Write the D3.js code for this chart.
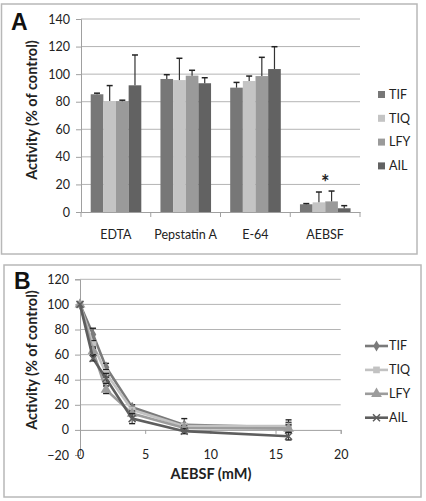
<!DOCTYPE html>
<html><head><meta charset="utf-8">
<script src="https://cdn.jsdelivr.net/npm/d3@7"></script>
<style>body{margin:0;background:#fff}svg{display:block}text{font-family:Lato,"Open Sans",sans-serif}</style>
</head><body><svg id="c" width="426" height="501"></svg>
<script>
const categories = ["EDTA","Pepstatin A","E-64","AEBSF"];
const seriesNames = ["TIF","TIQ","LFY","AIL"];
const tifA = [85.4, 96.5, 90.2, 5.6];
const tifAErr = [0.8, 3.1, 3.8, 0.5];
const tiqA = [80.5, 95.7, 95.0, 7.0];
const tiqAErr = [11.2, 15.8, 3.6, 7.5];
const lfyA = [80.4, 98.9, 98.6, 7.7];
const lfyAErr = [0.7, 3.9, 13.6, 7.5];
const ailA = [91.9, 93.4, 103.7, 2.7];
const ailAErr = [22.0, 4.0, 16.2, 1.9];
const yTicksA = [0,20,40,60,80,100,120,140];

const conc = [0,1,2,4,8,16];
const tifB = [100, 76, 50, 18, 4, 2];
const tifBErr = [0, 5, 3, 2, 5, 4];
const tiqB = [100, 68, 45, 16, 3, 3];
const tiqBErr = [0, 3, 3, 2, 2, 5];
const lfyB = [100, 63, 32, 13, 1.5, 1];
const lfyBErr = [0, 3, 3, 2, 2, 3];
const ailB = [100, 57, 41, 9, -1, -5];
const ailBErr = [0, 2, 4, 4, 2, 3];
const yTicksB = [-20,0,20,40,60,80,100,120];
const xTicksB = [0,5,10,15,20];

const colorsA = ["#777777","#c4c4c4","#9a9a9a","#626262"];
const colorsB = ["#7a7a7a","#c2c2c2","#9c9c9c","#5e5e5e"];
const grid = "#b4b4b4", axisC = "#a0a0a0", borderC = "#b8b8b8";

const svg = d3.select("#c");

// ---------- Panel A ----------
const gA = svg.append("g");
gA.append("rect").attr("x",1.5).attr("y",4).attr("width",415.5).attr("height",250)
  .attr("fill","none").attr("stroke",borderC).attr("stroke-width",1.5);
const yA = d3.scaleLinear().domain([0,140]).range([212,19]);
const x0 = d3.scaleBand().domain(categories).range([81,360]).padding(0);
const x1 = d3.scaleBand().domain(seriesNames).range([9.7,60.3]).padding(0);

gA.selectAll("line.grid").data(yTicksA.filter(d=>d>0)).join("line")
  .attr("x1",81).attr("x2",360).attr("y1",d=>yA(d)).attr("y2",d=>yA(d))
  .attr("stroke",grid).attr("stroke-width",1);

const yAxisA = d3.axisLeft(yA).tickValues(yTicksA).tickSize(5).tickPadding(6);
const ya = gA.append("g").attr("transform","translate(81,0)").call(yAxisA);
ya.select(".domain").attr("stroke",axisC);
ya.selectAll(".tick line").attr("stroke",axisC);
ya.selectAll("text").attr("font-size",12.5).attr("fill","#222").style("font-family","Lato");

const xAxisA = d3.axisBottom(x0).tickSize(0).tickPadding(18);
const xa = gA.append("g").attr("transform","translate(0,212)").call(xAxisA);
xa.select(".domain").attr("stroke",axisC);
xa.selectAll("text").attr("font-size",12.5).attr("fill","#222").style("font-family","Lato");
const bounds = categories.map(c=>x0(c)).concat([x0.range()[1]]);
gA.selectAll("line.ctick").data(bounds).join("line")
  .attr("x1",d=>d).attr("x2",d=>d).attr("y1",212).attr("y2",217)
  .attr("stroke",axisC);

const valsA = [tifA,tiqA,lfyA,ailA];
const errsA = [tifAErr,tiqAErr,lfyAErr,ailAErr];
seriesNames.forEach((s,si)=>{
  const rows = categories.map((c,ci)=>({c,v:valsA[si][ci],e:errsA[si][ci]}));
  gA.selectAll("rect.b"+si).data(rows).join("rect")
    .attr("x",d=>x0(d.c)+x1(s)).attr("width",x1.bandwidth())
    .attr("y",d=>yA(d.v)).attr("height",d=>yA(0)-yA(d.v))
    .attr("fill",colorsA[si]);
  rows.forEach(d=>{
    const cx = x0(d.c)+x1(s)+x1.bandwidth()/2;
    gA.append("line").attr("x1",cx).attr("x2",cx).attr("y1",yA(d.v)).attr("y2",yA(d.v+d.e))
      .attr("stroke","#333").attr("stroke-width",1.2);
    gA.append("line").attr("x1",cx-3).attr("x2",cx+3).attr("y1",yA(d.v+d.e)).attr("y2",yA(d.v+d.e))
      .attr("stroke","#222").attr("stroke-width",1.5);
  });
});
gA.append("text").attr("x",x0("AEBSF")+x1("LFY")).attr("y",190).attr("text-anchor","middle")
  .attr("font-size",20).attr("font-weight","bold").attr("fill","#222").text("*");

gA.append("text").attr("transform","translate(37,110) rotate(-90)").attr("text-anchor","middle")
  .attr("font-size",14.5).attr("font-weight","bold").attr("fill","#222").text("Activity (% of control)");
gA.append("text").attr("x",11).attr("y",30).attr("font-size",23).attr("font-weight","bold")
  .attr("fill","#111").style("font-family","Liberation Sans, Arial").text("A");

const legA = gA.selectAll("g.leg").data(seriesNames).join("g")
  .attr("transform",(d,i)=>`translate(378,${94.5+i*23.8})`);
legA.append("rect").attr("x",0).attr("y",-3.5).attr("width",7).attr("height",7).attr("fill",(d,i)=>colorsA[i]);
legA.append("text").attr("x",11).attr("y",0).attr("dy","0.35em").attr("font-size",12.5).attr("fill","#222").text(d=>d);

// ---------- Panel B ----------
const gB = svg.append("g");
gB.append("rect").attr("x",4).attr("y",265).attr("width",417).attr("height",232)
  .attr("fill","none").attr("stroke",borderC).attr("stroke-width",1.5);
const xB = d3.scaleLinear().domain([0,20]).range([80,340.7]);
const yB = d3.scaleLinear().domain([-20,120]).range([455,279.3]);

gB.selectAll("line.grid").data(yTicksB.filter(d=>d>0)).join("line")
  .attr("x1",80).attr("x2",340.7).attr("y1",d=>yB(d)).attr("y2",d=>yB(d))
  .attr("stroke",grid).attr("stroke-width",1);

const yAxisB = d3.axisLeft(yB).tickValues(yTicksB).tickSize(5).tickPadding(6);
const yb = gB.append("g").attr("transform","translate(80,0)").call(yAxisB);
yb.select(".domain").attr("stroke",axisC);
yb.selectAll(".tick line").attr("stroke",axisC);
yb.selectAll("text").attr("font-size",12.5).attr("fill","#222").style("font-family","Lato");

const xAxisB = d3.axisBottom(xB).tickValues(xTicksB).tickSize(4).tickPadding(0).tickFormat(d3.format("d"));
const xb = gB.append("g").attr("transform",`translate(0,${yB(0)})`).call(xAxisB);
xb.select(".domain").attr("stroke",axisC);
xb.selectAll(".tick line").attr("stroke",axisC);
xb.selectAll("text").attr("font-size",12.5).attr("fill","#222").style("font-family","Lato")
  .attr("y",yB(-20)-yB(0)).attr("dy","0.35em");

const valsB = [tifB,tiqB,lfyB,ailB];
const errsB = [tifBErr,tiqBErr,lfyBErr,ailBErr];
const line = d3.line().x(d=>xB(d.x)).y(d=>yB(d.y));
const symTypes = [d3.symbolDiamond, d3.symbolSquare, d3.symbolTriangle, null];
const symSizes = [36, 45, 50, 0];
function drawMarker(g, si, cx, cy, col){
  if (si===3){
    g.append("path").attr("d",`M${cx-3.5},${cy-3.5}L${cx+3.5},${cy+3.5}M${cx-3.5},${cy+3.5}L${cx+3.5},${cy-3.5}`)
      .attr("stroke",col).attr("stroke-width",1.5).attr("fill","none");
  } else {
    g.append("path").attr("d",d3.symbol().type(symTypes[si]).size(symSizes[si])())
      .attr("transform",`translate(${cx},${cy})`).attr("fill",col);
  }
}
seriesNames.forEach((s,si)=>{
  const pts = conc.map((c,i)=>({x:c,y:valsB[si][i],e:errsB[si][i]}));
  gB.append("path").datum(pts).attr("d",line).attr("fill","none")
    .attr("stroke",colorsB[si]).attr("stroke-width",2.6);
  pts.forEach(p=>{
    if (p.e>0){
      const cx=xB(p.x);
      gB.append("line").attr("x1",cx).attr("x2",cx).attr("y1",yB(p.y+p.e)).attr("y2",yB(p.y-p.e))
        .attr("stroke","#333").attr("stroke-width",1);
      [p.y+p.e,p.y-p.e].forEach(v=>gB.append("line").attr("x1",cx-3).attr("x2",cx+3)
        .attr("y1",yB(v)).attr("y2",yB(v)).attr("stroke","#222").attr("stroke-width",1.4));
    }
    drawMarker(gB, si, xB(p.x), yB(p.y), colorsB[si]);
  });
});

gB.append("text").attr("transform","translate(37,360) rotate(-90)").attr("text-anchor","middle")
  .attr("font-size",14.5).attr("font-weight","bold").attr("fill","#222").text("Activity (% of control)");
gB.append("text").attr("x",211).attr("y",479).attr("text-anchor","middle")
  .attr("font-size",14.5).attr("font-weight","bold").attr("fill","#222").text("AEBSF (mM)");
gB.append("text").attr("x",14).attr("y",289).attr("font-size",23).attr("font-weight","bold")
  .attr("fill","#111").style("font-family","Liberation Sans, Arial").text("B");

const legB = gB.selectAll("g.leg").data(seriesNames).join("g")
  .attr("transform",(d,i)=>`translate(365,${346+i*23.9})`);
legB.append("line").attr("x1",0).attr("x2",23).attr("y1",0).attr("y2",0)
  .attr("stroke",(d,i)=>colorsB[i]).attr("stroke-width",2.6);
legB.each(function(d,i){ drawMarker(d3.select(this), i, 11.5, 0, colorsB[i]); });
legB.append("text").attr("x",24).attr("y",0).attr("dy","0.35em").attr("font-size",12.5).attr("fill","#222").text(d=>d);
</script></body></html>
